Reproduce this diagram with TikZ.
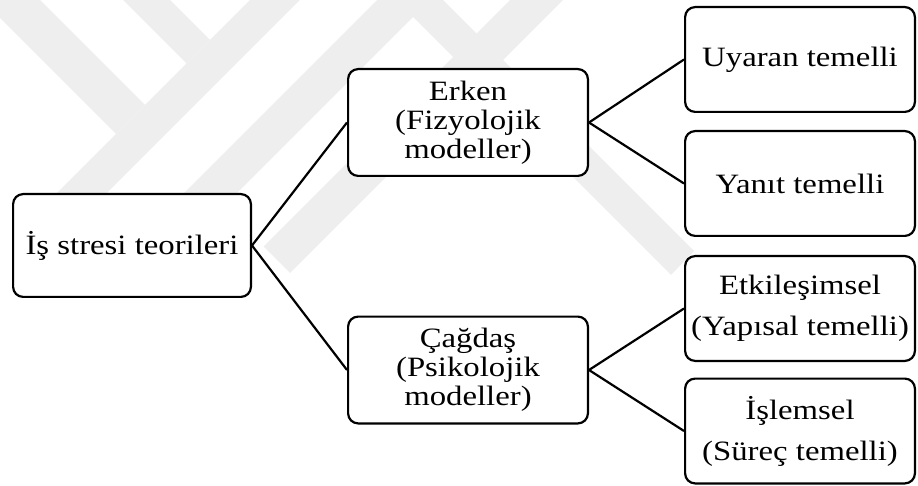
\documentclass[tikz,border=0pt]{standalone}
\usepackage{fontspec}
\setmainfont{Liberation Serif}[FakeStretch=1.17]
\definecolor{wm}{RGB}{238,238,238}
\begin{document}
\begin{tikzpicture}[x=1pt,y=-1pt,
  box/.style={draw=black, line width=2.2pt, rounded corners=10pt, fill=white,
    align=center, inner sep=0pt, font=\fontsize{28}{29}\selectfont},
  midbox/.style={box, minimum width=239.8pt, minimum height=106.8pt},
  leafbox/.style={box, minimum width=229.8pt, minimum height=104.8pt,
    font=\fontsize{28}{41}\selectfont},
  link/.style={line width=2.2pt},
  band/.style={fill=wm, draw=none}]
\useasboundingbox (0,0) rectangle (918,486);
% faint watermark bands
\fill[band] (0,0) -- (40,0) -- (145,105) -- (116,134) -- (0,18) -- cycle;
\fill[band] (123,0) -- (170,0) -- (210,40) -- (186.5,63.5) -- cycle;
\fill[band] (250,0) -- (300,0) -- (105,195) -- (55,195) -- cycle;
\fill[band] (377,0) -- (430,0) -- (200,230) -- (147,230) -- cycle;
\fill[band] (510,0) -- (563,0) -- (290,273) -- (263.5,246.5) -- cycle;
\fill[band] (396,0) -- (443,0) -- (694,251) -- (671,275) -- cycle;
% nodes
\node[box, minimum width=237.8pt, minimum height=102.8pt] (root) at (132,245.5) {İş stresi teorileri};
\node[midbox] (erken) at (468,122.5) {Erken\\(Fizyolojik\\modeller)};
\node[midbox] (cagdas) at (468,370) {Çağdaş\\(Psikolojik\\modeller)};
\node[leafbox] (uyaran) at (800,59.5) {Uyaran temelli};
\node[leafbox] (yanit) at (800,183.5) {Yanıt temelli};
\node[leafbox] (etk) at (800,308.5) {Etkileşimsel\\(Yapısal temelli)};
\node[leafbox] (isl) at (800,431) {İşlemsel\\(Süreç temelli)};
% connectors
\draw[link] (root.east) -- (erken.west);
\draw[link] (root.east) -- (cagdas.west);
\draw[link] (erken.east) -- (uyaran.west);
\draw[link] (erken.east) -- (yanit.west);
\draw[link] (cagdas.east) -- (etk.west);
\draw[link] (cagdas.east) -- (isl.west);
\end{tikzpicture}
\end{document}
